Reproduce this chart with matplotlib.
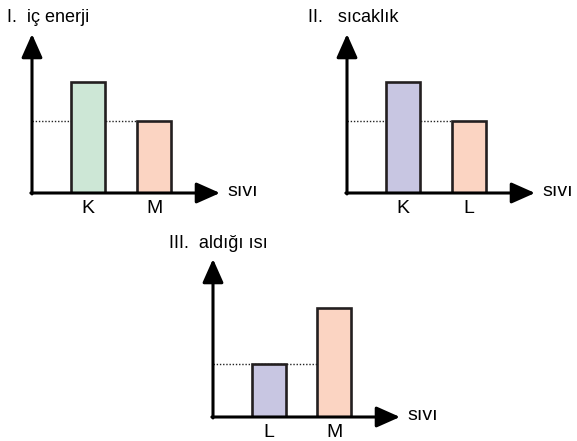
import matplotlib
matplotlib.use("Agg")
import matplotlib.pyplot as plt

plt.rcParams['font.family'] = ['Liberation Sans', 'DejaVu Sans']

# veriler
baslik1 = "I.  iç enerji"
sivi1 = ["K", "M"]
deger1 = [3.0, 1.95]
renk1 = ["#cde7d6", "#fbd4c2"]

baslik2 = "II.   sıcaklık"
sivi2 = ["K", "L"]
deger2 = [3.0, 1.95]
renk2 = ["#c8c6e2", "#fbd4c2"]

baslik3 = "III.  aldığı ısı"
sivi3 = ["L", "M"]
deger3 = [1.45, 2.97]
renk3 = ["#c8c6e2", "#fbd4c2"]

W, H = 577, 441
fig = plt.figure(figsize=(W / 100, H / 100), dpi=100)


def panel(left, bottom, right, top, cats, vals, colors, title, title_x, title_y, ref):
    ax = fig.add_axes([left / W, 1 - bottom / H, (right - left) / W, (bottom - top) / H])
    ax.set_xlim(-0.85, 2.0)
    ax.set_ylim(0, 4.3)
    x = range(len(cats))
    ax.bar(x, vals, width=0.52, color=colors, edgecolor="#231f20", linewidth=1.9, zorder=3)
    # kesikli cizgi: dusuk degerden ikinci cubugun kenarina kadar
    ax.hlines(vals[ref], -0.85, 1 - 0.26, colors="#222222", linestyles=(0, (1, 1.3)),
              linewidth=1.0, zorder=2)
    for s in ax.spines.values():
        s.set_visible(False)
    ax.set_xticks(list(x))
    ax.set_xticklabels(cats, fontsize=14)
    ax.tick_params(axis="x", length=0, pad=5)
    ax.set_yticks([])
    ap = dict(arrowstyle="-|>,head_length=0.9,head_width=0.4", color="black", lw=2.2,
              shrinkA=0, shrinkB=0, mutation_scale=16)
    ax.annotate("", xy=(0, 1.0), xytext=(0, -0.006), xycoords="axes fraction", arrowprops=ap)
    ax.annotate("", xy=(1.0, 0), xytext=(-0.006, 0), xycoords="axes fraction", arrowprops=ap)
    ax.text(1.04, 0.01, "sıvı", transform=ax.transAxes, fontsize=14, va="center", ha="left")
    fig.text(title_x / W, 1 - title_y / H, title, fontsize=13, va="center", ha="left")
    return ax


panel(32, 193, 220, 34, sivi1, deger1, renk1, baslik1, 7, 18, 1)
panel(347, 193, 535, 34, sivi2, deger2, renk2, baslik2, 308, 18, 1)
panel(213, 417, 400, 259, sivi3, deger3, renk3, baslik3, 169, 244, 0)

fig.savefig("out.png", dpi=100)
